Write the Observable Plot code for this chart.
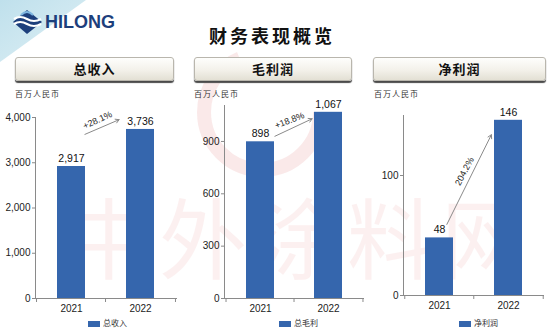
<!DOCTYPE html>
<html><head><meta charset="utf-8">
<script src="https://cdn.jsdelivr.net/npm/d3@7"></script>
<script src="https://cdn.jsdelivr.net/npm/@observablehq/plot@0.6"></script>
<style>
body{margin:0;background:#fff;}
#page{position:relative;width:554px;height:330px;overflow:hidden;background:#fff;font-family:"Liberation Sans",Arial,sans-serif;}
.abs{position:absolute;}
.btn{position:absolute;height:22px;border-radius:3px;border:1px solid #b9b6ad;
 background:linear-gradient(#fefefc 0%,#f3f1ea 55%,#e3e0d4 100%);box-shadow:0 2px 1px #4a4a4a;
 font:700 13px "Noto Sans CJK SC",sans-serif;color:#111;text-align:center;line-height:22px;letter-spacing:1px;}
.unit{position:absolute;font:8px "Noto Sans CJK SC",sans-serif;color:#333;letter-spacing:1px;}
.leg{position:absolute;font:8px "Noto Sans CJK SC",sans-serif;color:#333;white-space:nowrap;}
.leg span.sw{display:inline-block;width:12px;height:6px;background:#3566ad;margin-right:3px;vertical-align:middle;}
.chart{position:absolute;}
.chart svg{color:#8a8a8a;overflow:visible;}
.chart svg g[aria-label$="tick label"]{fill:#222;}
</style></head>
<body><div id="page">
<svg class="abs" style="left:0;top:0" width="554" height="330">
  <defs><linearGradient id="tri" x1="0" y1="0" x2="1" y2="1">
    <stop offset="0" stop-color="#bfe0ec"/><stop offset="1" stop-color="#dff0f5"/></linearGradient></defs>
  <polygon points="0,0 86,0 0,62" fill="url(#tri)"/>
  <circle cx="262" cy="112" r="58" fill="none" stroke="#f2c7c7" stroke-width="14" stroke-dasharray="250 115" opacity="0.4"/>
  <g transform="translate(13,8)">
    <polygon points="14,2 29,14 14,26 0,14" fill="#1d3f7c"/>
    <path d="M1,11 q6,-4 13,0 t14,0" stroke="#fff" stroke-width="2.2" fill="none"/>
    <path d="M1,16 q6,-4 13,0 t14,0" stroke="#fff" stroke-width="2.2" fill="none"/>
    <path d="M8,7 q6,-6 12,0" stroke="#7fb6e0" stroke-width="2" fill="none"/>
  </g>
  <text x="45" y="28" font-family="Liberation Sans, Arial" font-weight="700" font-size="18" fill="#1d3f7c">HILONG</text>
  <text x="272" y="43" text-anchor="middle" font-family="Noto Sans CJK SC" font-weight="700" font-size="18" letter-spacing="3" fill="#111">财务表现概览</text>
  <text x="300" y="272" text-anchor="middle" font-family="Noto Sans CJK SC" font-size="88" letter-spacing="6" fill="#e05050" opacity="0.08">中外涂料网</text>
</svg>
</div>
<script>
// ---- data ----
const years = ["2021", "2022"];
const revenue = [2917, 3736];
const grossProfit = [898, 1067];
const netProfit = [48, 146];
const panelTitles = ["总收入", "毛利润", "净利润"];
const legendLabels = ["总收入", "总毛利", "净利润"];
const unitLabel = "百万人民币";
const growthLabels = ["+28.1%", "+18.8%", "204.2%"];
const yTicks = [[0, 1000, 2000, 3000, 4000], [0, 300, 600, 900], [0, 100]];
const yMax = [4000, 1106, 150];
// annotation arrow endpoints / label anchors in data units
const arrowFrom = [3500, 891, 46.9];
const arrowTo = [4155, 1074, 162.7];
const growthLabelY = [3940, 1020, 103.5];

// ---- layout (positions & styles) ----
const barColor = "#3566ad";
const layout = [
  {left: 0, top: 100, w: 180, h: 220, ml: 35, mt: 17, mb: 22, mr: 3, btn: [15, 57, 157], unit: [15, 88], leg: [88, 317],
   inS: 14.6, inE: 23.3, labDx: 26, rot: -25},
  {left: 190, top: 100, w: 178, h: 220, ml: 34, mt: 5, mb: 22, mr: 4, btn: [194, 57, 156], unit: [194, 88], leg: [279, 317],
   inS: 15.9, inE: 18.1, labDx: 29, rot: -21},
  {left: 370, top: 100, w: 178, h: 220, ml: 33, mt: 15, mb: 25, mr: 4, btn: [373, 57, 171], unit: [374, 88], leg: [459, 317],
   inS: 16.5, inE: 38.5, labDx: 25, rot: -62}
];
const series = [revenue, grossProfit, netProfit];
const page = document.getElementById("page");
const fmt = d3.format(",");

layout.forEach((c, i) => {
  const b = document.createElement("div");
  b.className = "btn";
  b.style.left = c.btn[0] + "px"; b.style.top = c.btn[1] + "px"; b.style.width = c.btn[2] + "px";
  b.textContent = panelTitles[i];
  page.appendChild(b);

  const u = document.createElement("div");
  u.className = "unit"; u.style.left = c.unit[0] + "px"; u.style.top = c.unit[1] + "px";
  u.textContent = unitLabel;
  page.appendChild(u);

  const data = years.map((y, j) => ({year: y, value: series[i][j]}));
  const pi = 0.59, po = 0.31;
  const step = (c.w - c.ml - c.mr) / (years.length - pi + 2 * po);
  const ann = [{from: years[0], to: years[1], y1: arrowFrom[i], y2: arrowTo[i], ly: growthLabelY[i], label: growthLabels[i]}];

  const plot = Plot.plot({
    width: c.w, height: c.h,
    marginLeft: c.ml, marginRight: c.mr, marginTop: c.mt, marginBottom: c.mb,
    style: {fontFamily: "Liberation Sans, Arial, sans-serif", fontSize: "10px", background: "transparent"},
    x: {domain: years, paddingInner: pi, paddingOuter: po, label: null, tickSize: 0, tickPadding: 6},
    y: {domain: [0, yMax[i]], ticks: yTicks[i], tickFormat: fmt, label: null, tickSize: 3, tickPadding: 2, line: true},
    marks: [
      Plot.barY(data, {x: "year", y: "value", fill: barColor}),
      Plot.ruleY([0], {stroke: "#8a8a8a"}),
      Plot.ruleX(years, {x: d => d, y1: 0, y2: 0, dx: -step / 2, insetBottom: -4, stroke: "#8a8a8a"}),
      Plot.ruleX(years.slice(-1), {x: d => d, y1: 0, y2: 0, dx: step / 2, insetBottom: -4, stroke: "#8a8a8a"}),
      Plot.text(data, {x: "year", y: "value", text: d => fmt(d.value), dy: -8, fill: "#111", fontSize: 10.5}),
      Plot.arrow(ann, {x1: "from", y1: "y1", x2: "to", y2: "y2", insetStart: c.inS, insetEnd: c.inE,
        stroke: "#8a8a8a", strokeWidth: 1, headLength: 6}),
      Plot.text(ann, {x: "from", y: "ly", text: "label", dx: c.labDx, rotate: c.rot, fill: "#222", fontSize: 9})
    ]
  });
  const wrap = document.createElement("div");
  wrap.className = "chart";
  wrap.style.left = c.left + "px"; wrap.style.top = c.top + "px";
  wrap.appendChild(plot);
  page.appendChild(wrap);

  const l = document.createElement("div");
  l.className = "leg"; l.style.left = c.leg[0] + "px"; l.style.top = c.leg[1] + "px";
  l.innerHTML = '<span class="sw"></span>';
  l.appendChild(document.createTextNode(legendLabels[i]));
  page.appendChild(l);
});
</script>
</body></html>
